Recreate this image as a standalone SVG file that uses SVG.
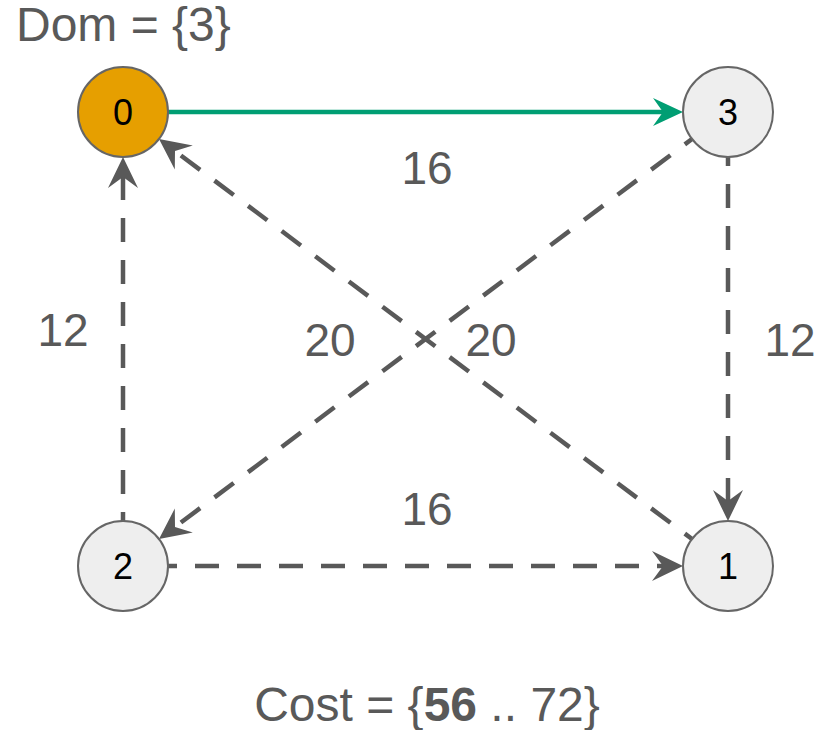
<svg xmlns="http://www.w3.org/2000/svg" width="825" height="730" viewBox="0 0 825 730">
  <style>
    .node circle { stroke: #666666; stroke-width: 2; }
    .node text { font-family: "Liberation Sans", Arial, sans-serif; font-size: 36px; fill: #000000; text-anchor: middle; }
    .edge { fill: none; stroke-width: 4.5; }
    .dashed { stroke: #595959; stroke-dasharray: 24 18; stroke-dashoffset: 15; marker-end: url(#arrowGray); }
    .solid { stroke: #009e73; marker-end: url(#arrowGreen); }
    .label { font-family: "Liberation Sans", Arial, sans-serif; font-size: 46px; fill: #595959; text-anchor: middle; }
    .caption { font-family: "Liberation Sans", Arial, sans-serif; font-size: 48px; fill: #595959; }
  </style>
  <defs>
    <marker id="arrowGray" markerUnits="userSpaceOnUse" orient="auto" refX="0" refY="0" markerWidth="40" markerHeight="40" overflow="visible">
      <path d="M20,0 L-11,-15 L0,0 L-11,15 Z" fill="#595959"/>
    </marker>
    <marker id="arrowGreen" markerUnits="userSpaceOnUse" orient="auto" refX="0" refY="0" markerWidth="40" markerHeight="40" overflow="visible">
      <path d="M20,0 L-10,-14 L0,0 L-10,14 Z" fill="#009e73"/>
    </marker>
  </defs>

  <rect width="825" height="730" fill="#ffffff"/>

  <g id="connectors">
    <!-- 0 -> 3 (chosen) -->
    <line class="edge solid" x1="168" y1="112" x2="663" y2="112"/>
    <!-- 2 -> 0 -->
    <line class="edge dashed" x1="123" y1="521" x2="123" y2="177"/>
    <!-- 3 -> 1 -->
    <line class="edge dashed" x1="728" y1="157" x2="728" y2="501"/>
    <!-- 2 -> 1 -->
    <line class="edge dashed" x1="168" y1="566" x2="663" y2="566"/>
    <!-- 3 -> 2 -->
    <line class="edge dashed" x1="692" y1="139" x2="175" y2="527"/>
    <!-- 1 -> 0 -->
    <line class="edge dashed" x1="692" y1="539" x2="175" y2="151"/>
  </g>

  <g id="edge-labels">
    <text class="label" x="427" y="184">16</text>
    <text class="label" x="63" y="346">12</text>
    <text class="label" x="330" y="356">20</text>
    <text class="label" x="491" y="356">20</text>
    <text class="label" x="790" y="356">12</text>
    <text class="label" x="427" y="525">16</text>
  </g>

  <g id="node-0" class="node">
    <circle cx="123" cy="112" r="45" fill="#e69f00"/>
    <text x="123" y="125">0</text>
  </g>
  <g id="node-3" class="node">
    <circle cx="728" cy="112" r="45" fill="#eeeeee"/>
    <text x="728" y="125">3</text>
  </g>
  <g id="node-2" class="node">
    <circle cx="123" cy="566" r="45" fill="#eeeeee"/>
    <text x="123" y="579">2</text>
  </g>
  <g id="node-1" class="node">
    <circle cx="728" cy="566" r="45" fill="#eeeeee"/>
    <text x="728" y="579">1</text>
  </g>

  <g id="annotations">
    <text class="caption" x="16" y="41">Dom = {3}</text>
    <text class="caption" x="427" y="721" text-anchor="middle">Cost = {<tspan font-weight="bold">56</tspan> .. 72}</text>
  </g>
</svg>
